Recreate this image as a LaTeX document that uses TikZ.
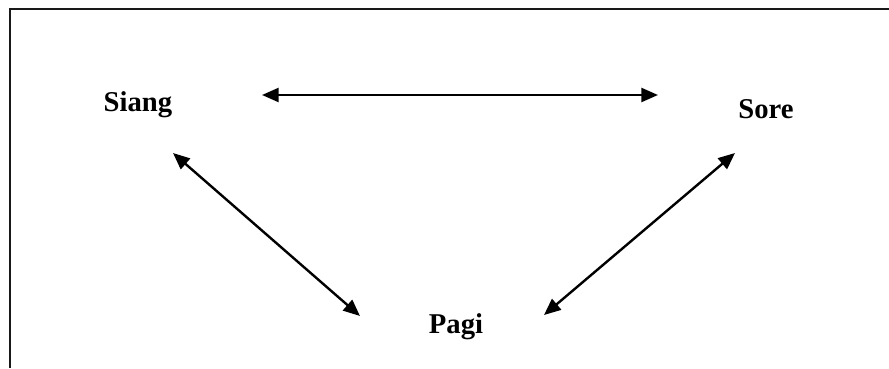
\documentclass[tikz,border=0pt]{standalone}
\usepackage{fontspec}
\setmainfont{Liberation Serif}
\usepackage{tikz}
\usetikzlibrary{arrows.meta}

\begin{document}
\begin{tikzpicture}
    [x=0.75pt,y=-0.75pt,line width=1.5pt,
     every node/.style={anchor=base,inner sep=0pt,font=\fontsize{21.5}{26}\selectfont\bfseries},
     link/.style={{Triangle[length=12.5pt,width=10.5pt]}-{Triangle[length=12.5pt,width=10.5pt]},line width=1.8pt}]
    \useasboundingbox (0,0) rectangle (889,368);
    \draw[line width=2pt,black!90] (10,368) -- (10,9) -- (889,9);
    \node (siang) at (138,111) {Siang};
    \node (sore) at (766,118) {Sore};
    \node (pagi) at (456,333) {Pagi};
    \coordinate (h1) at (262,95);
    \coordinate (h2) at (658,95);
    \coordinate (l1) at (173,153);
    \coordinate (l2) at (360,316);
    \coordinate (r1) at (735,153);
    \coordinate (r2) at (544,315);
    \foreach \from/\to in {h1/h2, l1/l2, r1/r2}
    \draw[link] (\from) -- (\to);
\end{tikzpicture}
\end{document}
